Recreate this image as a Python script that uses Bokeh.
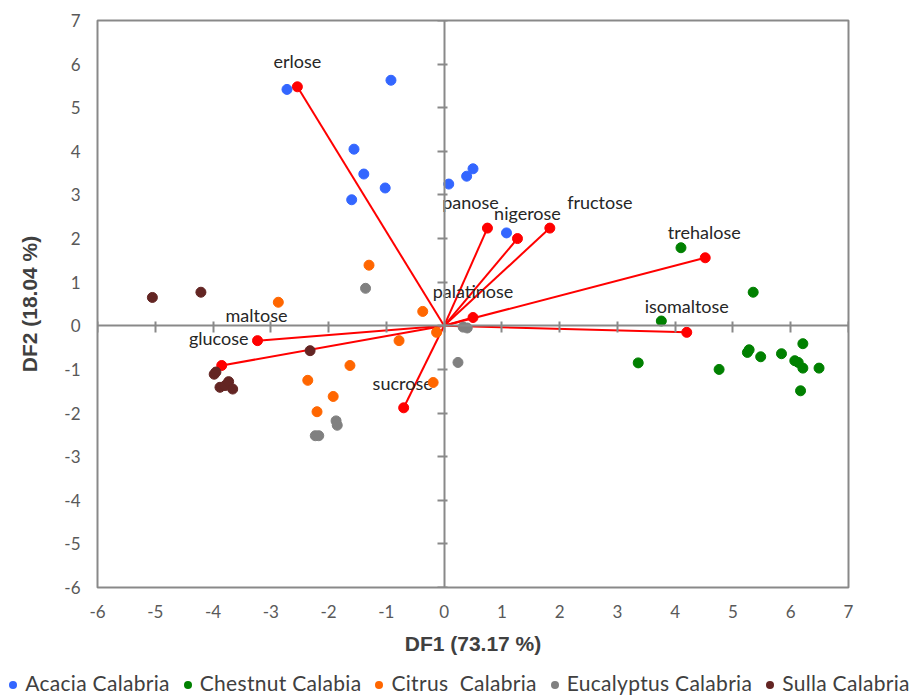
from bokeh.plotting import figure
from bokeh.layouts import column
from bokeh.models import (LinearAxis, FixedTicker, Range1d, Div,
                          ColumnDataSource, CustomJSTickFormatter)
from bokeh.core.properties import value
from bokeh.embed import file_html
from bokeh.resources import INLINE

# ---- data ----
ticks = [-6, -5, -4, -3, -2, -1, 0, 1, 2, 3, 4, 5, 6, 7]

acacia_x = [-2.72, -0.92, -1.56, -1.39, -1.02, -1.60, 0.08, 0.39, 0.50, 1.08]
acacia_y = [5.42, 5.63, 4.05, 3.48, 3.16, 2.89, 3.25, 3.43, 3.60, 2.13]

chestnut_x = [4.10, 5.35, 3.76, 3.36, 4.76, 5.25, 5.28, 5.48, 5.84, 6.21, 6.07, 6.13, 6.21, 6.49, 6.17]
chestnut_y = [1.79, 0.77, 0.11, -0.85, -1.00, -0.61, -0.55, -0.71, -0.64, -0.41, -0.80, -0.84, -0.97, -0.97, -1.49]

citrus_x = [-1.30, -2.87, -0.37, -0.13, -0.78, -1.63, -2.36, -1.92, -2.20, -0.19]
citrus_y = [1.39, 0.54, 0.33, -0.15, -0.34, -0.91, -1.25, -1.62, -1.97, -1.30]

eucalyptus_x = [-1.36, 0.33, 0.40, 0.24, -1.87, -1.85, -2.23, -2.17]
eucalyptus_y = [0.86, -0.03, -0.05, -0.84, -2.18, -2.28, -2.52, -2.52]

sulla_x = [-5.05, -4.21, -2.32, -3.98, -3.95, -3.88, -3.79, -3.73, -3.66]
sulla_y = [0.65, 0.77, -0.57, -1.11, -1.06, -1.41, -1.37, -1.28, -1.45]

var_names = ["erlose", "panose", "nigerose", "fructose", "trehalose",
             "palatinose", "isomaltose", "maltose", "glucose", "sucrose"]
var_x = [-2.54, 0.75, 1.27, 1.83, 4.52, 0.50, 4.20, -3.23, -3.85, -0.70]
var_y = [5.48, 2.24, 2.00, 2.24, 1.56, 0.19, -0.15, -0.34, -0.91, -1.88]

group_names = ["Acacia Calabria", "Chestnut Calabia", "Citrus  Calabria",
               "Eucalyptus Calabria", "Sulla Calabria"]

# ---- styles ----
group_colors = ["#3366FF", "#008000", "#FF6600", "#808080", "#632523"]
lab_dx = [0, -17, 10, 50, -1, 0, 0, -1, -3, -1]
lab_dy = [-26, -26, -26, -26, -26, -27, -26, -26, -27, -25]

FONT = "Lato"
AX = "#898989"

p = figure(frame_width=751, frame_height=567, x_range=Range1d(-6, 7), y_range=Range1d(-6, 7),
           x_axis_location=None, y_axis_location=None,
           output_backend="svg", toolbar_location=None,
           min_border_left=97, min_border_top=20, min_border_right=71, min_border_bottom=82)
p.grid.visible = False
p.outline_line_color = AX
p.outline_line_width = 2
p.background_fill_color = "white"

fmt = CustomJSTickFormatter(code="return tick.toString()")

# labeled axes on frame
xlab = LinearAxis(ticker=FixedTicker(ticks=ticks), formatter=fmt, axis_label="DF1 (73.17 %)",
                  axis_line_color=None, major_tick_line_color=None, minor_tick_line_color=None,
                  major_tick_in=0, major_tick_out=0,
                  major_label_standoff=17, axis_label_standoff=11,
                  major_label_text_font=FONT, major_label_text_font_size="17px",
                  major_label_text_color="#595959",
                  axis_label_text_font="Liberation Sans", axis_label_text_font_size="21px",
                  axis_label_text_font_style="bold", axis_label_text_color="#404040")
p.add_layout(xlab, "below")
ylab = LinearAxis(ticker=FixedTicker(ticks=ticks), formatter=fmt, axis_label="DF2 (18.04 %)",
                  axis_line_color=None, major_tick_line_color=None, minor_tick_line_color=None,
                  major_tick_in=0, major_tick_out=0,
                  major_label_standoff=17, axis_label_standoff=20,
                  major_label_text_font=FONT, major_label_text_font_size="17px",
                  major_label_text_color="#595959",
                  axis_label_text_font="Liberation Sans", axis_label_text_font_size="21px",
                  axis_label_text_font_style="bold", axis_label_text_color="#404040")
p.add_layout(ylab, "left")

# crossing axes at zero
blank = CustomJSTickFormatter(code="return ''")
xc = LinearAxis(fixed_location=0, ticker=FixedTicker(ticks=ticks), formatter=blank,
                axis_line_color=AX, axis_line_width=2, major_tick_line_color=AX,
                major_tick_line_width=2, major_tick_in=7, major_tick_out=4,
                minor_tick_line_color=None, major_label_text_font_size="1px")
p.add_layout(xc, "above")
yc = LinearAxis(fixed_location=0, ticker=FixedTicker(ticks=ticks), formatter=blank,
                axis_line_color=AX, axis_line_width=2, major_tick_line_color=AX,
                major_tick_line_width=2, major_tick_in=7, major_tick_out=3,
                minor_tick_line_color=None, major_label_text_font_size="1px")
p.add_layout(yc, "right")

# vectors
vsrc = ColumnDataSource(dict(x=var_x, y=var_y, name=var_names, dx=lab_dx, dy=lab_dy,
                             x0=[0] * len(var_x), y0=[0] * len(var_y)))
p.segment(x0="x0", y0="y0", x1="x", y1="y", source=vsrc, line_color="#FF0000", line_width=2)
p.scatter(x="x", y="y", source=vsrc, size=10, color="#FF0000")
p.text(x="x", y="y", text="name", source=vsrc, x_offset="dx", y_offset="dy",
       text_align="center", text_baseline="middle", text_font=value(FONT),
       text_font_size="18px", text_color="#262626")

group_xs = [acacia_x, chestnut_x, citrus_x, eucalyptus_x, sulla_x]
group_ys = [acacia_y, chestnut_y, citrus_y, eucalyptus_y, sulla_y]
for xs, ys, col in zip(group_xs, group_ys, group_colors):
    p.scatter(xs, ys, size=10, color=col)

# legend strip (HTML) below the chart
parts = []
for i, (name, col) in enumerate(zip(group_names, group_colors)):
    ml = "0" if i == 0 else "14px"
    parts.append(
        f'<span style="display:inline-block;margin-left:{ml};white-space:pre;">'
        f'<span style="display:inline-block;width:8px;height:8px;border-radius:50%;'
        f'background:{col};vertical-align:middle;margin-right:8px;position:relative;top:-1px;"></span>'
        f'{name}</span>')
html = ('<div style="width:919px;text-align:center;font-family:Lato;font-size:21px;'
        'letter-spacing:0.3px;color:#404040;line-height:28px;white-space:nowrap;margin:0;padding:0;">'
        + "".join(parts) + '</div>')
leg = Div(text=html, width=919, height=28, margin=(0, 0, 0, 0))

open("out.html", "w").write(file_html(column(p, leg, spacing=0), INLINE))
